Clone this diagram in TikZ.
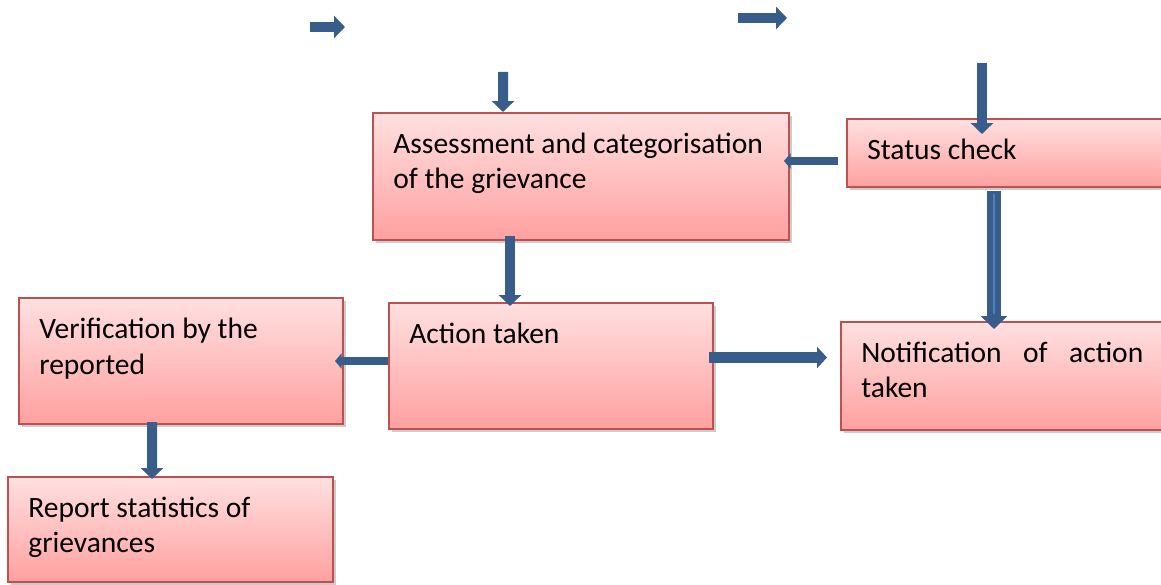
\documentclass[tikz,border=0pt]{standalone}
\usepackage{fontspec}
\newfontfamily\calfont{Carlito}
\usetikzlibrary{arrows.meta,shadows}
\definecolor{flowblue}{RGB}{56,93,138}
\definecolor{flowlight}{RGB}{79,129,189}
\definecolor{stageline}{RGB}{192,80,77}
\definecolor{stagetop}{RGB}{255,224,224}
\definecolor{stagebot}{RGB}{255,160,160}
\tikzstyle{stage}=[rectangle,draw=stageline,line width=0.04cm,top color=stagetop,bottom color=stagebot,inner sep=0pt,drop shadow={shadow xshift=0.05cm,shadow yshift=-0.06cm,fill=black!40,opacity=0.5}]
\tikzstyle{stagetext}=[anchor=north west,inner sep=0pt,align=left,xshift=0.42cm,yshift=-0.42cm,font=\calfont\fontsize{16.8}{20}\selectfont]
\tikzstyle{flow}=[draw=flowblue,line width=0.2cm,-{Triangle[width=0.44cm,length=0.22cm]}]
\tikzstyle{thinflow}=[draw=flowblue,line width=0.16cm,-{Triangle[width=0.3cm,length=0.13cm]}]

\begin{document}
\begin{tikzpicture}
\useasboundingbox (0,0) rectangle (23.22,11.68);
\node[stage,minimum width=8.32cm,minimum height=2.54cm,label={[stagetext]north west:{Assessment and categorisation\\of the grievance}}] (assess) at (11.62,8.15) {};
\node[stage,minimum width=6.66cm,minimum height=1.36cm,label={[stagetext]north west:{Status check}}] (status) at (20.27,8.62) {};
\node[stage,minimum width=6.48cm,minimum height=2.52cm,label={[stagetext]north west:{Action taken}}] (action) at (11.02,4.36) {};
\node[stage,minimum width=6.78cm,minimum height=2.16cm,label={[stagetext,text width=5.64cm]north west:{Notification\hfill of\hfill action\\taken}}] (notif) at (20.21,4.16) {};
\node[stage,minimum width=6.48cm,minimum height=2.52cm,label={[stagetext]north west:{Verification by the\\reported}}] (verif) at (3.62,4.46) {};
\node[stage,minimum width=6.5cm,minimum height=2.1cm,label={[stagetext]north west:{Report statistics of\\grievances}}] (report) at (3.41,1.09) {};
% loose ends on top
\coordinate (inA) at (6.2,11.14); \coordinate (outA) at (6.9,11.14);
\coordinate (inB) at (14.76,11.32); \coordinate (outB) at (15.74,11.32);
\coordinate (feedA) at (10.06,10.24);
\coordinate (feedS) at (19.64,10.42);
\draw[flow](inA)--(outA);
\draw[flow](inB)--(outB);
\draw[flow](feedA)--([xshift=-1.56cm]assess.north);
\draw[flow](feedS)--([xshift=-0.63cm,yshift=-0.32cm]status.north);
\draw[thinflow]([xshift=-0.16cm,yshift=-0.16cm]status.west)--([xshift=-0.12cm,yshift=0.31cm]assess.east);
\draw[flow,line width=0.28cm,-{Triangle[width=0.52cm,length=0.26cm]},postaction={draw=flowlight,line width=0.03cm,-,shorten >=0.3cm,shorten <=0.05cm}]([xshift=-0.39cm,yshift=-0.06cm]status.south)--([xshift=-0.33cm,yshift=-0.16cm]notif.north);
\draw[flow]([xshift=-1.42cm,yshift=0.1cm]assess.south)--([xshift=-0.82cm,yshift=-0.08cm]action.north);
\draw[thinflow]([yshift=0.1cm]action.west)--([xshift=-0.18cm]verif.east);
\draw[flow,line width=0.22cm,-{Triangle[width=0.42cm,length=0.2cm]}]([xshift=-0.1cm,yshift=0.17cm]action.east)--([xshift=-0.26cm,yshift=0.37cm]notif.west);
\draw[flow]([xshift=-0.58cm,yshift=0.06cm]verif.south)--([xshift=-0.37cm,yshift=-0.06cm]report.north);
\end{tikzpicture}
\end{document}
